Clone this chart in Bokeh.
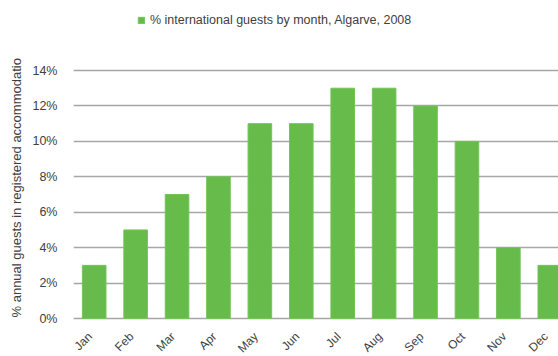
import math
from bokeh.plotting import figure
from bokeh.models import Range1d, Legend, LegendItem, FixedTicker, NumeralTickFormatter, ColumnDataSource, Title
from bokeh.core.properties import value
from bokeh.embed import file_html
from bokeh.resources import INLINE

months = ["Jan", "Feb", "Mar", "Apr", "May", "Jun", "Jul", "Aug", "Sep", "Oct", "Nov", "Dec"]
share = [0.03, 0.05, 0.07, 0.08, 0.11, 0.11, 0.13, 0.13, 0.12, 0.10, 0.04, 0.03]
y_ticks = [0, 0.02, 0.04, 0.06, 0.08, 0.10, 0.12, 0.14]
series_name = "% international guests by month, Algarve, 2008"
y_title = "% annual guests in registered accommodatio"

FONT = "Liberation Sans"
TXT = "#404040"
GREEN = "#66bb4a"
GRID = "#a6a6a6"

idx = list(range(len(months)))
src = ColumnDataSource(dict(x=idx, top=share, month=months, base=[0] * len(months)))

# frame covers the full height; 0% sits at 318px and 14% at 70px from the top
H = 356
y0_px, y14_px = 318, 70
per = 0.14 / (y0_px - y14_px)
p = figure(width=558, height=H, output_backend="svg", toolbar_location=None,
           x_range=Range1d(-0.5, 11.21),
           y_range=Range1d(-(H - y0_px) * per, y0_px * per),
           min_border_left=72, min_border_right=0, min_border_top=0, min_border_bottom=0)
p.outline_line_color = None
p.background_fill_color = "white"
p.border_fill_color = "white"

r = p.vbar(x="x", top="top", width=0.57, bottom=0, source=src,
           fill_color=GREEN, line_color="#74c45a", line_width=1)

# Y axis
p.yaxis.ticker = FixedTicker(ticks=y_ticks)
p.yaxis.formatter = NumeralTickFormatter(format="0%")
p.yaxis.axis_line_color = None
p.yaxis.major_tick_line_color = None
p.yaxis.minor_tick_line_color = None
p.yaxis.major_label_standoff = 10
p.yaxis.major_label_text_font = FONT
p.yaxis.major_label_text_font_size = "12.5px"
p.yaxis.major_label_text_color = TXT

ytitle = Title(text=y_title, align="left", offset=H - y0_px + 1, text_font=FONT,
               text_font_size="13px", text_font_style="normal", text_color=TXT,
               standoff=12)
p.add_layout(ytitle, "left")

# X axis: hidden; the 0% gridline is the axis line, month labels drawn as text
p.xaxis.visible = False
p.xgrid.grid_line_color = None
p.ygrid.grid_line_color = GRID
p.ygrid.grid_line_width = 1.5

p.text(x="x", y="base", text="month", source=src, angle=math.pi / 4,
       text_align="right", text_baseline="middle", x_offset=-4, y_offset=16,
       text_font=value(FONT), text_font_size="12px", text_color=TXT)

legend = Legend(items=[LegendItem(label=series_name, renderers=[r])],
                location=(64, H - 27), orientation="horizontal",
                border_line_color=None, background_fill_alpha=0,
                padding=0, margin=0, glyph_width=8, glyph_height=8, label_standoff=5,
                label_text_font=FONT, label_text_font_size="12.5px", label_text_color=TXT)
p.add_layout(legend, "center")

open("out.html", "w").write(file_html(p, INLINE))
